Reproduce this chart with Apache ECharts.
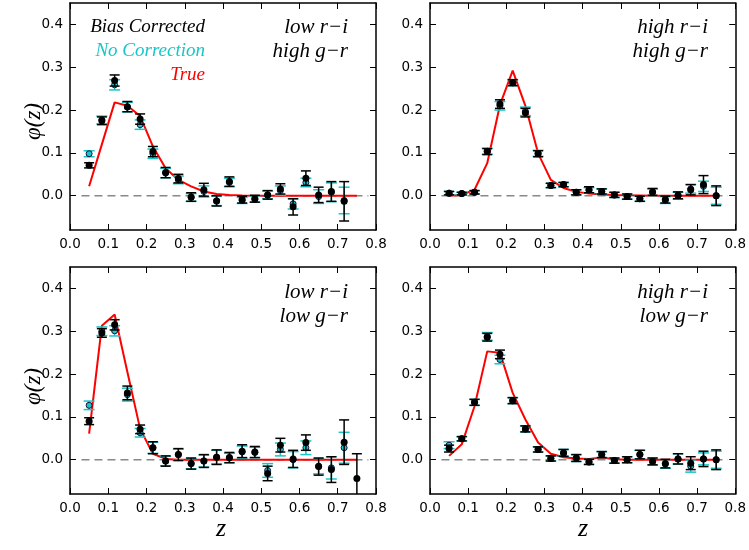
<!DOCTYPE html>
<html><head><meta charset="utf-8">
<script src="https://cdn.jsdelivr.net/npm/echarts@6/dist/echarts.min.js"></script>
<style>html,body{margin:0;padding:0;background:#fff}#c{width:749px;height:550px}</style>
</head><body><div id="c"></div>
<script>
// redshift bin centres
const z = [0.05,0.0833,0.1167,0.15,0.1833,0.2167,0.25,0.2833,0.3167,0.35,0.3833,0.4167,0.45,0.4833,0.5167,0.55,0.5833,0.6167,0.65,0.6833,0.7167,0.75];
const xTicks = [0.0,0.1,0.2,0.3,0.4,0.5,0.6,0.7,0.8];
const yTicks = [0.0,0.1,0.2,0.3,0.4];

// Panel 1: low r-i, high g-r
const p1Bias    = [0.071,0.175,0.269,0.208,0.179,0.103,0.054,0.040,-0.003,0.014,-0.012,0.033,-0.009,-0.007,0.002,0.016,-0.026,0.041,0.002,0.010,-0.013,null];
const p1BiasErr = [0.006,0.009,0.013,0.012,0.012,0.012,0.012,0.010,0.010,0.015,0.012,0.011,0.008,0.008,0.010,0.012,0.019,0.017,0.018,0.023,0.046,null];
const p1NoCorr  = [0.098,0.177,0.259,0.207,0.166,0.098,0.053,0.037,-0.004,0.010,-0.012,0.031,-0.011,-0.008,0.002,0.012,-0.019,0.031,-0.002,0.008,-0.011,null];
const p1NoCorrErr=[0.007,0.009,0.012,0.011,0.011,0.011,0.011,0.009,0.009,0.013,0.011,0.010,0.007,0.007,0.009,0.011,0.012,0.010,0.016,0.022,0.031,null];
const p1True    = [0.022,0.120,0.218,0.210,0.186,0.115,0.064,0.037,0.022,0.010,0.004,0.0015,0.0005,0,0,0,0,0,0,0,0,0];

// Panel 2: high r-i, high g-r
const p2Bias    = [0.006,0.005,0.008,0.103,0.214,0.264,0.194,0.098,0.024,0.026,0.008,0.014,0.010,0.002,-0.002,-0.007,0.009,-0.009,0.001,0.014,0.026,0.000];
const p2BiasErr = [0.004,0.003,0.004,0.007,0.010,0.007,0.010,0.007,0.005,0.005,0.006,0.007,0.006,0.006,0.006,0.006,0.008,0.008,0.008,0.012,0.021,0.023];
const p2NoCorr  = [0.006,0.005,0.008,0.104,0.210,0.264,0.197,0.099,0.024,0.026,0.008,0.013,0.010,0.002,-0.002,-0.007,0.008,-0.010,0.000,0.016,0.022,0.000];
const p2NoCorrErr=[0.004,0.003,0.004,0.007,0.010,0.007,0.010,0.007,0.005,0.005,0.006,0.006,0.006,0.006,0.006,0.006,0.008,0.008,0.008,0.010,0.012,0.020];
const p2True    = [0.000,0.002,0.014,0.076,0.212,0.292,0.210,0.099,0.037,0.018,0.009,0.005,0.003,0.0015,0.001,0.0005,0,0,0,0,0,0];

// Panel 3: low r-i, low g-r
const p3Bias    = [0.090,0.296,0.315,0.156,0.071,0.028,-0.003,0.012,-0.009,-0.003,0.006,0.005,0.020,0.018,-0.032,0.034,0.002,0.040,-0.016,-0.023,0.041,-0.044];
const p3BiasErr = [0.008,0.010,0.012,0.016,0.010,0.014,0.012,0.014,0.013,0.015,0.017,0.012,0.015,0.013,0.017,0.016,0.020,0.018,0.020,0.030,0.052,0.058];
const p3NoCorr  = [0.127,0.300,0.301,0.152,0.063,0.028,-0.003,0.012,-0.009,-0.003,0.006,0.004,0.018,0.017,-0.025,0.024,0.000,0.028,-0.015,-0.019,0.028,null];
const p3NoCorrErr=[0.010,0.010,0.012,0.015,0.010,0.013,0.011,0.013,0.012,0.014,0.016,0.011,0.014,0.012,0.016,0.015,0.019,0.016,0.018,0.026,0.036,null];
const p3True    = [0.061,0.313,0.339,0.205,0.072,0.014,0.002,0,0,0,0,0,0,0,0,0,0,0,0,0,0,0];

// Panel 4: high r-i, low g-r
const p4Bias    = [0.026,0.049,0.134,0.286,0.246,0.138,0.072,0.024,0.003,0.016,0.004,-0.005,0.012,-0.002,0.000,0.012,-0.004,-0.009,0.002,-0.008,0.002,0.000];
const p4BiasErr = [0.008,0.005,0.007,0.009,0.010,0.007,0.007,0.006,0.006,0.008,0.008,0.006,0.007,0.006,0.007,0.010,0.008,0.010,0.012,0.015,0.018,0.023];
const p4NoCorr  = [0.034,0.049,0.134,0.288,0.234,0.138,0.072,0.024,0.003,0.016,0.004,-0.005,0.012,-0.002,0.000,0.012,-0.004,-0.010,0.002,-0.015,0.002,0.000];
const p4NoCorrErr=[0.008,0.005,0.007,0.009,0.010,0.007,0.007,0.006,0.006,0.008,0.008,0.006,0.007,0.006,0.007,0.010,0.008,0.010,0.012,0.014,0.014,0.020];
const p4True    = [0.009,0.036,0.125,0.253,0.250,0.156,0.094,0.040,0.014,0.006,0.003,0.002,0.005,0.001,0,0,0,0,0,0,0,0];

const zeroLineX = [0.03, 0.78];
const panelLabels = [["low r\u2212i","high g\u2212r"],["high r\u2212i","high g\u2212r"],["low r\u2212i","low g\u2212r"],["high r\u2212i","low g\u2212r"]];
const legendTexts = ["Bias Corrected","No Correction","True"];

const panels = [
  {bias:p1Bias,biasErr:p1BiasErr,nc:p1NoCorr,ncErr:p1NoCorrErr,tr:p1True},
  {bias:p2Bias,biasErr:p2BiasErr,nc:p2NoCorr,ncErr:p2NoCorrErr,tr:p2True},
  {bias:p3Bias,biasErr:p3BiasErr,nc:p3NoCorr,ncErr:p3NoCorrErr,tr:p3True},
  {bias:p4Bias,biasErr:p4BiasErr,nc:p4NoCorr,ncErr:p4NoCorrErr,tr:p4True}
];

const CYAN = '#19c6c6';
const grids = [
  {left:70, top:3, width:306, height:227},
  {left:430, top:3, width:307, height:227},
  {left:70, top:267, width:306, height:227},
  {left:430, top:267, width:307, height:227}
];
const tickFont = {fontFamily:'DejaVu Sans', fontSize:13.5, color:'#000'};
const xAxes = [], yAxes = [], series = [];
function errRender(color, hw){
  return function(params, api){
    const x = api.value(0), y = api.value(1), e = api.value(2);
    const t = api.coord([x, y+e]), b = api.coord([x, y-e]);
    const st = {stroke:color, lineWidth:1.5};
    return {type:'group', children:[
      {type:'line', shape:{x1:t[0],y1:t[1],x2:b[0],y2:b[1]}, style:st},
      {type:'line', shape:{x1:t[0]-hw,y1:t[1],x2:t[0]+hw,y2:t[1]}, style:st},
      {type:'line', shape:{x1:b[0]-hw,y1:b[1],x2:b[0]+hw,y2:b[1]}, style:st}
    ]};
  };
}
grids.forEach((g,i)=>{
  const axLine = {show:true, onZero:false, lineStyle:{color:'#000', width:1.5}};
  xAxes.push({type:'value', gridIndex:i, min:0, max:0.8, position:'bottom', axisLine:axLine,
    axisTick:{inside:true, length:6, lineStyle:{color:'#000'}, customValues:xTicks},
    axisLabel:Object.assign({customValues:xTicks, margin:7, formatter:v=>v.toFixed(1)}, tickFont),
    splitLine:{show:false}});
  xAxes.push({type:'value', gridIndex:i, min:0, max:0.8, position:'top', axisLine:axLine,
    axisTick:{inside:true, length:6, lineStyle:{color:'#000'}, customValues:xTicks},
    axisLabel:{show:false}, splitLine:{show:false}});
  yAxes.push({type:'value', gridIndex:i, min:-0.08, max:0.45, position:'left', axisLine:axLine,
    axisTick:{inside:true, length:6, lineStyle:{color:'#000'}, customValues:yTicks},
    axisLabel:Object.assign({customValues:yTicks, margin:7, formatter:v=>v.toFixed(1)}, tickFont),
    splitLine:{show:false}});
  yAxes.push({type:'value', gridIndex:i, min:-0.08, max:0.45, position:'right', axisLine:axLine,
    axisTick:{inside:true, length:6, lineStyle:{color:'#000'}, customValues:yTicks},
    axisLabel:{show:false}, splitLine:{show:false}});
  const p = panels[i];
  const ax = {xAxisIndex:2*i, yAxisIndex:2*i};
  series.push(Object.assign({type:'line', data:zeroLineX.map(x=>[x,0]), symbol:'none', silent:true,
    lineStyle:{color:'#888', width:1.5, type:[8,5]}, z:1}, ax));
  series.push(Object.assign({type:'line', data:z.map((x,k)=>[x,p.tr[k]]), symbol:'none',
    lineStyle:{color:'#ff0000', width:2}, z:2}, ax));
  const ncData = z.map((x,k)=>[x,p.nc[k],p.ncErr[k]]).filter(d=>d[1]!==null);
  const bData = z.map((x,k)=>[x,p.bias[k],p.biasErr[k]]).filter(d=>d[1]!==null);
  series.push(Object.assign({type:'custom', data:ncData, renderItem:errRender(CYAN,5.5), encode:{x:0,y:1}, clip:true, z:3}, ax));
  series.push(Object.assign({type:'scatter', data:ncData.map(d=>[d[0],d[1]]), symbolSize:6,
    itemStyle:{color:CYAN, borderColor:'#114', borderWidth:1, opacity:1}, z:4}, ax));
  series.push(Object.assign({type:'custom', data:bData, renderItem:errRender('#000',5), encode:{x:0,y:1}, clip:true, z:5}, ax));
  series.push(Object.assign({type:'scatter', data:bData.map(d=>[d[0],d[1]]), symbolSize:7,
    itemStyle:{color:'#000', opacity:1}, z:6}, ax));
});

const serif = 'Liberation Serif';
const graphic = [];
const labelPos = [[348,29],[708,29],[348,294],[708,294]];
labelPos.forEach((pos,i)=>{
  graphic.push({type:'text', right:749-pos[0], top:pos[1]-12, style:{text:panelLabels[i][0], font:'italic 21px "'+serif+'"', fill:'#000'}});
  graphic.push({type:'text', right:749-pos[0], top:pos[1]+12, style:{text:panelLabels[i][1], font:'italic 21px "'+serif+'"', fill:'#000'}});
});
const legColors = ['#000', CYAN, '#ff0000'];
legendTexts.forEach((t,k)=>{
  graphic.push({type:'text', right:749-205, top:17+24*k, style:{text:t, font:'italic 19px "'+serif+'"', fill:legColors[k]}});
});
graphic.push({type:'text', x:22, y:140, rotation:Math.PI/2, style:{text:'\u03c6(z)', font:'italic 23px "'+serif+'"', fill:'#000'}});
graphic.push({type:'text', x:22, y:405, rotation:Math.PI/2, style:{text:'\u03c6(z)', font:'italic 23px "'+serif+'"', fill:'#000'}});
graphic.push({type:'text', x:216, y:516, style:{text:'z', font:'italic 26px "'+serif+'"', fill:'#000'}});
graphic.push({type:'text', x:578, y:516, style:{text:'z', font:'italic 26px "'+serif+'"', fill:'#000'}});

const chart = echarts.init(document.getElementById('c'), null, {renderer:'canvas'});
chart.setOption({animation:false, backgroundColor:'#fff', grid:grids, xAxis:xAxes, yAxis:yAxes, series:series, graphic:graphic});
</script></body></html>
